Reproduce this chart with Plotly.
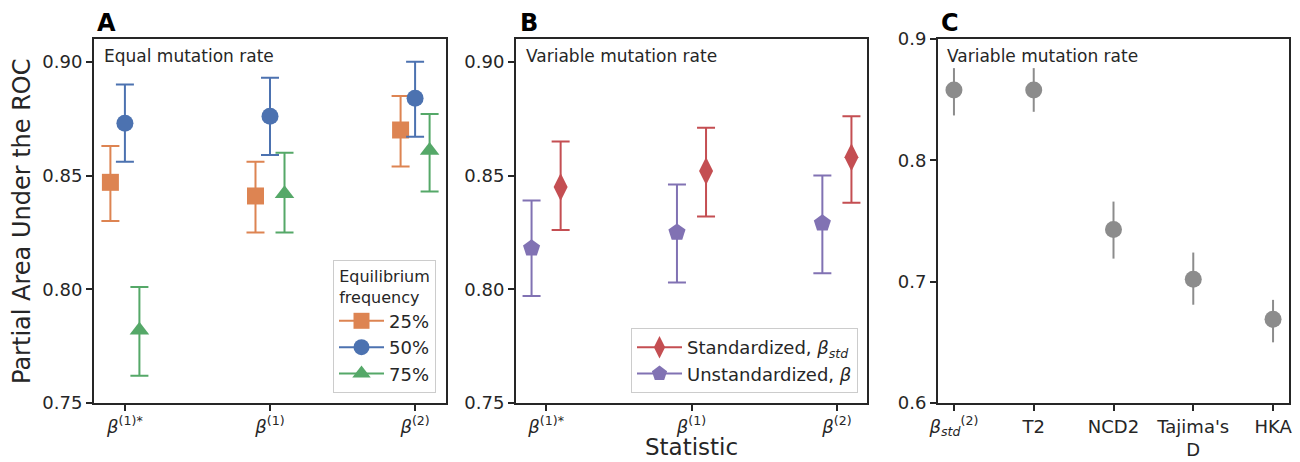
import plotly.graph_objects as go

# ---------------- data ----------------
ab_stats = ["<i>β</i><sup>(1)*</sup>", "<i>β</i><sup>(1)</sup>", "<i>β</i><sup>(2)</sup>"]

freq_labels = ["25%", "50%", "75%"]
a_mean_25 = [0.847, 0.841, 0.870]
a_lo_25 = [0.830, 0.825, 0.854]
a_hi_25 = [0.863, 0.856, 0.885]
a_mean_50 = [0.873, 0.876, 0.884]
a_lo_50 = [0.856, 0.859, 0.867]
a_hi_50 = [0.890, 0.893, 0.900]
a_mean_75 = [0.782, 0.842, 0.861]
a_lo_75 = [0.762, 0.825, 0.843]
a_hi_75 = [0.801, 0.860, 0.877]

b_labels = ["Standardized, <i>β<sub>std</sub></i>", "Unstandardized, <i>β</i>"]
b_std_mean = [0.845, 0.852, 0.858]
b_std_lo = [0.826, 0.832, 0.838]
b_std_hi = [0.865, 0.871, 0.876]
b_uns_mean = [0.818, 0.825, 0.829]
b_uns_lo = [0.797, 0.803, 0.807]
b_uns_hi = [0.839, 0.846, 0.850]

c_stats = ["<i>β</i><sub><i>std</i></sub><sup>(2)</sup>", "T2", "NCD2", "Tajima's<br>D", "HKA"]
c_mean = [0.858, 0.858, 0.743, 0.702, 0.669]
c_lo = [0.837, 0.840, 0.719, 0.681, 0.650]
c_hi = [0.876, 0.876, 0.766, 0.724, 0.685]

a_ticks = [0.75, 0.80, 0.85, 0.90]
c_ticks = [0.6, 0.7, 0.8, 0.9]

# ---------------- style ----------------
FONT = "DejaVu Sans"
TXT = "#262626"
ORANGE, BLUE, GREEN = "#DD8452", "#4C72B0", "#55A868"
RED, PURPLE, GREY = "#C44E52", "#8172B3", "#8C8C8C"

W, H = 1300, 462
fig = go.Figure()


def add_points(xaxis, yaxis, means, lo, hi, offset, color, symbol, size, cap, name=None, legend=None):
    xs = [i + offset for i in range(len(means))]
    plus = [h - m for h, m in zip(hi, means)]
    minus = [m - l for m, l in zip(means, lo)]
    fig.add_trace(go.Scatter(
        x=xs, y=means, mode="markers", xaxis=xaxis, yaxis=yaxis,
        marker=dict(color=color, symbol=symbol, size=size, line=dict(width=0)),
        error_y=dict(type="data", array=plus, arrayminus=minus, color=color,
                     thickness=2, width=cap),
        showlegend=False, hoverinfo="x+y"))
    if name is not None:
        fig.add_trace(go.Scatter(
            x=[None], y=[None], mode="lines+markers", xaxis=xaxis, yaxis=yaxis,
            name=name, legend=legend,
            marker=dict(color=color, symbol=symbol, size=size, line=dict(width=0)),
            line=dict(color=color, width=2), showlegend=True))


# Panel A
add_points("x", "y", a_mean_25, a_lo_25, a_hi_25, -0.1, ORANGE, "square", 17, 9, freq_labels[0], "legend")
add_points("x", "y", a_mean_50, a_lo_50, a_hi_50, 0.0, BLUE, "circle", 17, 9, freq_labels[1], "legend")
add_points("x", "y", a_mean_75, a_lo_75, a_hi_75, 0.1, GREEN, "triangle-up", 17, 9, freq_labels[2], "legend")

# Panel B
add_points("x2", "y2", b_std_mean, b_std_lo, b_std_hi, 0.1, RED, "diamond-tall", 20, 9, b_labels[0], "legend2")
add_points("x2", "y2", b_uns_mean, b_uns_lo, b_uns_hi, -0.1, PURPLE, "pentagon", 18, 9, b_labels[1], "legend2")

# Panel C
add_points("x3", "y3", c_mean, c_lo, c_hi, 0.0, GREY, "circle", 17, 0)

# ---------------- axes ----------------
def px_x(v):
    return v / W


def px_y(v):
    return 1 - v / H


axis_common = dict(showline=True, linecolor=TXT, linewidth=2, mirror=True,
                   ticks="outside", ticklen=6, tickwidth=1.5, tickcolor=TXT,
                   showgrid=False, zeroline=False, automargin=False,
                   tickfont=dict(family=FONT, size=18, color=TXT))

ydom = [px_y(403), px_y(39)]
fig.update_layout(
    xaxis=dict(domain=[px_x(94), px_x(446)], range=[-0.213, 2.213],
               tickvals=[0, 1, 2], ticktext=ab_stats, anchor="y", **axis_common),
    yaxis=dict(domain=ydom, range=[0.75, 0.91], tickvals=a_ticks,
               ticktext=[f"{v:.2f}" for v in a_ticks], anchor="x", **axis_common),
    xaxis2=dict(domain=[px_x(516), px_x(867)], range=[-0.207, 2.207],
                tickvals=[0, 1, 2], ticktext=ab_stats, anchor="y2", **axis_common),
    yaxis2=dict(domain=ydom, range=[0.75, 0.91], tickvals=a_ticks,
                ticktext=[f"{v:.2f}" for v in a_ticks], anchor="x2", **axis_common),
    xaxis3=dict(domain=[px_x(938), px_x(1289)], range=[-0.2, 4.2],
                tickvals=list(range(len(c_stats))), ticktext=c_stats, anchor="y3", **axis_common),
    yaxis3=dict(domain=ydom, range=[0.6, 0.9], tickvals=c_ticks,
                ticktext=[f"{v:.1f}" for v in c_ticks], anchor="x3", **axis_common),
)

legend_common = dict(bgcolor="white", bordercolor="#CCCCCC", borderwidth=1,
                     font=dict(family=FONT, size=18, color=TXT),
                     xref="paper", yref="paper", xanchor="right", yanchor="bottom",
                     itemsizing="trace", itemwidth=45, tracegroupgap=0)
fig.update_layout(
    legend=dict(x=px_x(436), y=px_y(393),
                title=dict(text="Equilibrium<br>frequency", side="top center",
                           font=dict(family=FONT, size=16, color=TXT)),
                **legend_common),
    legend2=dict(x=px_x(858), y=px_y(393), **legend_common),
)

ann = []
def text(x, y, s, size, bold=False, angle=0, xanchor="left", yanchor="middle"):
    ann.append(dict(x=px_x(x), y=px_y(y), xref="paper", yref="paper", text=f"<b>{s}</b>" if bold else s,
                    showarrow=False, xanchor=xanchor, yanchor=yanchor, textangle=angle, borderpad=0,
                    font=dict(family=FONT, size=size, color="black" if bold else TXT)))

text(96, 23, "A", 24, bold=True)
text(519, 23, "B", 24, bold=True)
text(940, 23, "C", 24, bold=True)
text(103, 56, "Equal mutation rate", 17)
text(525, 56, "Variable mutation rate", 17)
text(946, 56, "Variable mutation rate", 17)
text(22, 221, "Partial Area Under the ROC", 24, angle=-90, xanchor="center")
text(692, 461, "Statistic", 23, xanchor="center", yanchor="bottom")

fig.update_layout(
    width=W, height=H, margin=dict(l=0, r=0, t=0, b=0, autoexpand=False),
    paper_bgcolor="white", plot_bgcolor="white",
    font=dict(family=FONT, color=TXT),
    annotations=ann,
)

fig.write_html("out.html", config={"displayModeBar": False},
               post_script="document.body.style.margin='0px';document.body.style.overflow='hidden';")
